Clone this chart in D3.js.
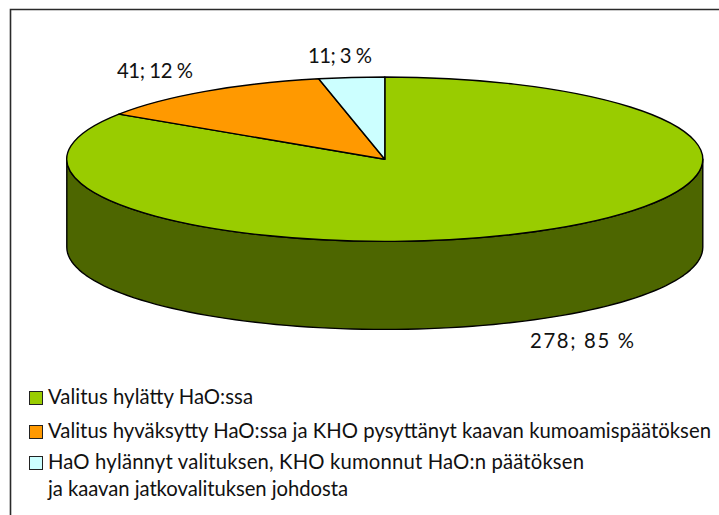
<!DOCTYPE html>
<html><head><meta charset="utf-8">
<script src="https://cdn.jsdelivr.net/npm/d3@7/dist/d3.min.js"></script>
<style>html,body{margin:0;padding:0;background:#fff}svg{display:block}text{font-family:Lato,"Open Sans",sans-serif;fill:#111}</style>
</head><body><svg id="c" width="719" height="515"></svg>
<script>
const categories = ["Valitus hylätty HaO:ssa","Valitus hyväksytty HaO:ssa ja KHO pysyttänyt kaavan kumoamispäätöksen","HaO hylännyt valituksen, KHO kumonnut HaO:n päätöksen"];
const legendExtraLine = "ja kaavan jatkovalituksen johdosta";
const values = [278,41,11];
const percents = [85,12,3];
const colors = ["#99CC00","#FF9900","#CCFFFF"];
const wallColor = "#4D6600";

const svg = d3.select("#c");
const cx=384.8, cy=159.2, rx=318, ry=82.2, depth=88;
const fs=20.3;

svg.append("path").attr("d","M719.5,9.5H10.5V515.5").attr("fill","none").attr("stroke","#2a2a2a").attr("stroke-width",1.6);

const pie = d3.pie().sort(null).value(d=>d)(values);
const px = d3.scaleLinear().domain([-1,1]).range([cx-rx,cx+rx]);
const py = d3.scaleLinear().domain([-1,1]).range([cy-ry,cy+ry]);

const wall = d3.path();
wall.moveTo(px(-1),py(0));
wall.lineTo(px(-1),py(0)+depth);
d3.range(180,-1,-2).map(a=>[px(Math.cos(a*Math.PI/180)),py(Math.sin(a*Math.PI/180))+depth]).forEach(p=>wall.lineTo(p[0],p[1]));
wall.lineTo(px(1),py(0));
d3.range(0,181,2).forEach(a=>wall.lineTo(px(Math.cos(a*Math.PI/180)),py(Math.sin(a*Math.PI/180))));
wall.closePath();
svg.append("path").attr("d",wall.toString()).attr("fill",wallColor).attr("stroke","#000").attr("stroke-width",1.4).attr("stroke-linejoin","round");

const arc = d3.arc().innerRadius(0).outerRadius(1);
svg.append("g").attr("transform",`translate(${cx},${cy}) scale(${rx},${ry})`)
 .selectAll("path").data(pie).join("path")
 .attr("d",arc).attr("fill",(d,i)=>colors[i])
 .attr("stroke","#000").attr("stroke-width",1.4).attr("vector-effect","non-scaling-stroke").attr("stroke-linejoin","round");

const labelX=[530,117,308], labelY=[348,78,63], labelW=[104,76,64];
svg.selectAll("text.lab").data(values).join("text").attr("class","lab")
 .attr("x",(d,i)=>labelX[i]).attr("y",(d,i)=>labelY[i])
 .attr("textLength",(d,i)=>labelW[i]).attr("lengthAdjust","spacing")
 .attr("font-size",fs).text((d,i)=>`${d}; ${percents[i]} %`);

const ly=[404,438,469], lw=[205,663,536];
const lg=svg.append("g");
lg.selectAll("rect").data(categories).join("rect")
 .attr("x",29.5).attr("y",(d,i)=>ly[i]-12.5).attr("width",13).attr("height",13)
 .attr("fill",(d,i)=>colors[i]).attr("stroke","#222").attr("stroke-width",1);
lg.selectAll("text").data(categories).join("text")
 .attr("x",48).attr("y",(d,i)=>ly[i]).attr("font-size",fs)
 .attr("textLength",(d,i)=>lw[i]).attr("lengthAdjust","spacing").text(d=>d);
lg.append("text").attr("x",48).attr("y",496).attr("font-size",fs).attr("textLength",300).attr("lengthAdjust","spacing").text(legendExtraLine);
</script></body></html>
